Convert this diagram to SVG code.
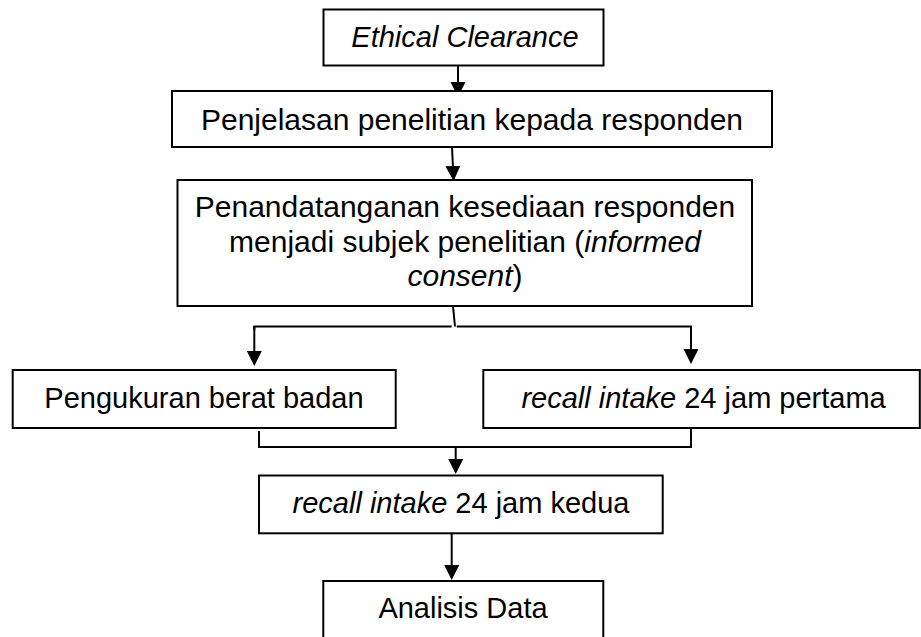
<svg xmlns="http://www.w3.org/2000/svg" width="921" height="637" viewBox="0 0 921 637">
<style>
.box{fill:#fff;stroke:#000;stroke-width:2}
.t{font-family:"Liberation Sans",Arial,sans-serif;fill:#000;text-anchor:middle}
.s30{font-size:30px}
.s29{font-size:29px}
.i{font-style:italic}
.c{fill:none;stroke:#000;stroke-width:2}
.a{marker-end:url(#ah)}
</style>
<defs>
<marker id="ah" markerUnits="userSpaceOnUse" markerWidth="16" markerHeight="16" refX="13" refY="7.5" orient="auto">
<path d="M0,0 L15,7.5 L0,15 Z" fill="#000"/>
</marker>
</defs>
<rect width="921" height="637" fill="#fff"/>
<g id="connectors">
<line class="c a" x1="458" y1="61" x2="458" y2="95"/>
<line class="c a" x1="452" y1="147" x2="453.5" y2="179"/>
<line class="c" x1="453" y1="306" x2="455" y2="326.5"/>
<polyline class="c" points="451.7,326.5 254.3,326.5 254.3,330"/>
<line class="c a" x1="254.3" y1="326" x2="254.3" y2="364"/>
<polyline class="c" points="456.7,326.5 691,326.5 691,330"/>
<line class="c a" x1="691" y1="326" x2="691" y2="362"/>
<polyline class="c" points="259,431 259,447 691,447 691,428"/>
<line class="c a" x1="455.7" y1="447" x2="455.7" y2="472"/>
<line class="c a" x1="451.7" y1="533" x2="451.7" y2="578"/>
</g>
<g id="ethical">
<rect class="box" x="323.5" y="9.5" width="280" height="56"/>
<text class="t s29 i" x="465" y="47">Ethical Clearance</text>
</g>
<g id="penjelasan">
<rect class="box" x="172" y="91" width="600" height="56"/>
<text class="t s30" x="472" y="130">Penjelasan penelitian kepada responden</text>
</g>
<g id="penandatanganan">
<rect class="box" x="177.5" y="180" width="574.5" height="126"/>
<text class="t s30" x="465" y="216.7">Penandatanganan kesediaan responden</text>
<text class="t s30" x="465" y="251.5">menjadi subjek penelitian (<tspan class="i">informed</tspan></text>
<text class="t s30" x="465" y="286"><tspan class="i">consent</tspan>)</text>
</g>
<g id="pengukuran">
<rect class="box" x="12.7" y="370" width="383" height="58"/>
<text class="t s29" x="204" y="408">Pengukuran berat badan</text>
</g>
<g id="recall1">
<rect class="box" x="483.3" y="370" width="436.5" height="58"/>
<text class="t s29" x="703.6" y="408"><tspan class="i">recall intake</tspan> 24 jam pertama</text>
</g>
<g id="recall2">
<rect class="box" x="259" y="475.5" width="403.7" height="57.8"/>
<text class="t s29" x="461" y="513"><tspan class="i">recall intake</tspan> 24 jam kedua</text>
</g>
<g id="analisis">
<rect class="box" x="323.3" y="581" width="280" height="80"/>
<text class="t s29" x="463" y="618">Analisis Data</text>
</g>
</svg>
